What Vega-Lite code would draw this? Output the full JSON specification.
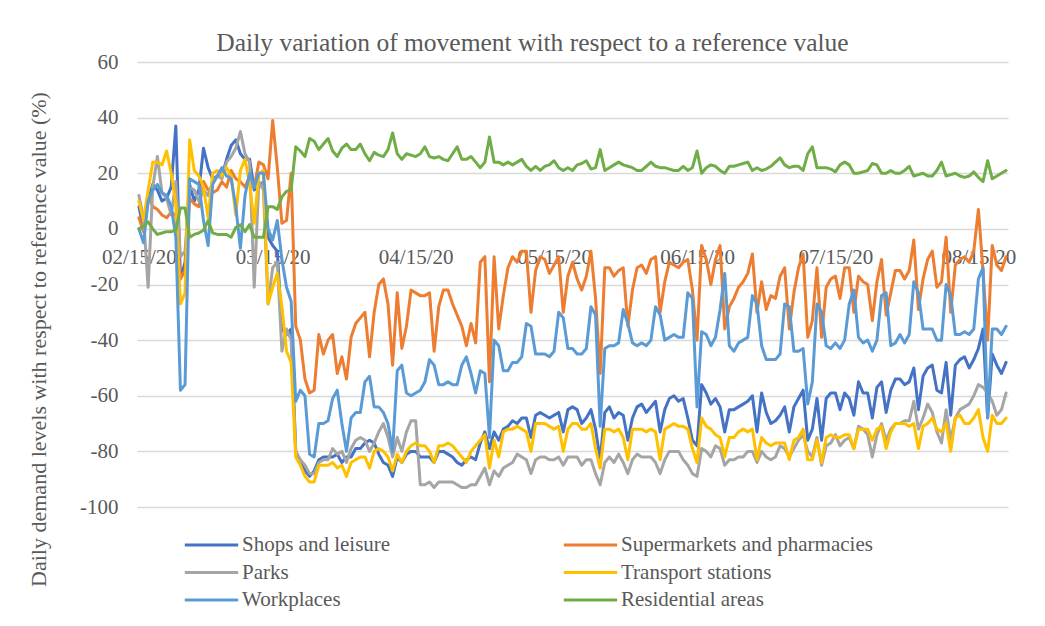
{
"$schema": "https://vega.github.io/schema/vega-lite/v6.json",
"width": 871, "height": 445,
"autosize": {"type": "none"},
"padding": {"left": 137, "top": 62, "right": 37, "bottom": 119},
"background": "white",
"title": {"text": "Daily variation of movement with respect to a reference value", "font": "Liberation Serif", "fontSize": 25.5, "fontWeight": "normal", "color": "#595959", "anchor": "middle", "dx": -40, "dy": 37, "baseline": "alphabetic", "offset": 12},
"data": {"values": [
{"date":"2020-02-15","shops":8,"markets":4,"parks":12,"transit":10,"work":0,"home":0},
{"date":"2020-02-16","shops":0,"markets":-1,"parks":4,"transit":3,"work":-5,"home":1},
{"date":"2020-02-17","shops":10,"markets":12,"parks":-21,"transit":14,"work":10,"home":2.5},
{"date":"2020-02-18","shops":16,"markets":8,"parks":15,"transit":24,"work":14,"home":0},
{"date":"2020-02-19","shops":14,"markets":7,"parks":26,"transit":24,"work":16,"home":-2},
{"date":"2020-02-20","shops":10,"markets":5,"parks":13,"transit":23,"work":13,"home":-1.5},
{"date":"2020-02-21","shops":11,"markets":4,"parks":11,"transit":28,"work":12,"home":-1},
{"date":"2020-02-22","shops":15,"markets":6,"parks":5,"transit":20,"work":8,"home":-1},
{"date":"2020-02-23","shops":37,"markets":5,"parks":17,"transit":9,"work":-3,"home":-0.5},
{"date":"2020-02-24","shops":-18,"markets":-18,"parks":-10,"transit":-27,"work":-58,"home":7.5},
{"date":"2020-02-25","shops":-12,"markets":-15,"parks":-8,"transit":-23,"work":-56,"home":7.5},
{"date":"2020-02-26","shops":16,"markets":11,"parks":15,"transit":32,"work":18,"home":-3},
{"date":"2020-02-27","shops":10,"markets":9,"parks":14,"transit":21,"work":17,"home":-2},
{"date":"2020-02-28","shops":14,"markets":8,"parks":10,"transit":19,"work":16,"home":-1.5},
{"date":"2020-02-29","shops":29,"markets":17,"parks":14,"transit":15,"work":3,"home":-0.5},
{"date":"2020-03-01","shops":22,"markets":14,"parks":12,"transit":4,"work":-6,"home":3},
{"date":"2020-03-02","shops":18,"markets":13,"parks":17,"transit":20,"work":16,"home":-1.5},
{"date":"2020-03-03","shops":19,"markets":14,"parks":19,"transit":21,"work":19,"home":-2},
{"date":"2020-03-04","shops":19,"markets":17,"parks":18,"transit":19,"work":22,"home":-2},
{"date":"2020-03-05","shops":25,"markets":15,"parks":24,"transit":22,"work":19,"home":-2},
{"date":"2020-03-06","shops":30,"markets":21,"parks":26,"transit":19,"work":18,"home":-3},
{"date":"2020-03-07","shops":32,"markets":18,"parks":29,"transit":5,"work":8,"home":0.5},
{"date":"2020-03-08","shops":27,"markets":17,"parks":35,"transit":21,"work":-7,"home":1.5},
{"date":"2020-03-09","shops":25,"markets":15,"parks":27,"transit":25,"work":12,"home":-1},
{"date":"2020-03-10","shops":25,"markets":19,"parks":24,"transit":16,"work":20,"home":1.5},
{"date":"2020-03-11","shops":14,"markets":15,"parks":-21,"transit":2,"work":15,"home":-3},
{"date":"2020-03-12","shops":15,"markets":24,"parks":17,"transit":20,"work":20,"home":-3},
{"date":"2020-03-13","shops":17,"markets":23,"parks":14,"transit":21,"work":20,"home":-3},
{"date":"2020-03-14","shops":-3,"markets":18,"parks":-27,"transit":-27,"work":0,"home":8},
{"date":"2020-03-15","shops":-6,"markets":39,"parks":-14,"transit":-21,"work":-4,"home":8},
{"date":"2020-03-16","shops":-8,"markets":22,"parks":-12,"transit":-16,"work":3,"home":7},
{"date":"2020-03-17","shops":-36,"markets":2,"parks":-44,"transit":-28,"work":-11,"home":11.5},
{"date":"2020-03-18","shops":-38,"markets":3,"parks":-36,"transit":-44,"work":-21,"home":13.5},
{"date":"2020-03-19","shops":-36,"markets":20,"parks":-40,"transit":-48,"work":-26,"home":14},
{"date":"2020-03-20","shops":-80,"markets":-35,"parks":-80,"transit":-82,"work":-62,"home":29.5},
{"date":"2020-03-21","shops":-84,"markets":-40,"parks":-83,"transit":-85,"work":-58,"home":28},
{"date":"2020-03-22","shops":-87,"markets":-54,"parks":-85,"transit":-89,"work":-60,"home":26},
{"date":"2020-03-23","shops":-89,"markets":-59,"parks":-88,"transit":-91,"work":-81,"home":32.5},
{"date":"2020-03-24","shops":-87,"markets":-58,"parks":-88,"transit":-91,"work":-82,"home":31.5},
{"date":"2020-03-25","shops":-83,"markets":-38,"parks":-84,"transit":-85,"work":-70,"home":28.5},
{"date":"2020-03-26","shops":-82,"markets":-45,"parks":-83,"transit":-85,"work":-70,"home":30.5},
{"date":"2020-03-27","shops":-82,"markets":-40,"parks":-83,"transit":-85,"work":-69,"home":32.5},
{"date":"2020-03-28","shops":-82,"markets":-38,"parks":-79,"transit":-84,"work":-61,"home":28},
{"date":"2020-03-29","shops":-81,"markets":-52,"parks":-81,"transit":-86,"work":-58,"home":26},
{"date":"2020-03-30","shops":-84,"markets":-46,"parks":-80,"transit":-85,"work":-70,"home":29},
{"date":"2020-03-31","shops":-82,"markets":-54,"parks":-84,"transit":-89,"work":-80,"home":30.5},
{"date":"2020-04-01","shops":-82,"markets":-39,"parks":-79,"transit":-84,"work":-68,"home":28.5},
{"date":"2020-04-02","shops":-79,"markets":-34,"parks":-76,"transit":-83,"work":-66,"home":28.5},
{"date":"2020-04-03","shops":-79,"markets":-32,"parks":-75,"transit":-82,"work":-66,"home":30.5},
{"date":"2020-04-04","shops":-77,"markets":-30,"parks":-76,"transit":-82,"work":-55,"home":27},
{"date":"2020-04-05","shops":-76,"markets":-46,"parks":-80,"transit":-86,"work":-53,"home":24.5},
{"date":"2020-04-06","shops":-77,"markets":-30,"parks":-77,"transit":-80,"work":-64,"home":27.5},
{"date":"2020-04-07","shops":-81,"markets":-20,"parks":-73,"transit":-79,"work":-64,"home":26.5},
{"date":"2020-04-08","shops":-84,"markets":-18,"parks":-70,"transit":-80,"work":-66,"home":26},
{"date":"2020-04-09","shops":-85,"markets":-27,"parks":-75,"transit":-82,"work":-70,"home":28.5},
{"date":"2020-04-10","shops":-89,"markets":-49,"parks":-82,"transit":-87,"work":-80,"home":34.5},
{"date":"2020-04-11","shops":-82,"markets":-23,"parks":-75,"transit":-81,"work":-51,"home":27},
{"date":"2020-04-12","shops":-84,"markets":-43,"parks":-80,"transit":-84,"work":-49,"home":25},
{"date":"2020-04-13","shops":-81,"markets":-35,"parks":-73,"transit":-80,"work":-59,"home":27},
{"date":"2020-04-14","shops":-80,"markets":-22,"parks":-69,"transit":-78,"work":-60,"home":26.5},
{"date":"2020-04-15","shops":-80,"markets":-23,"parks":-69,"transit":-77,"work":-59,"home":26},
{"date":"2020-04-16","shops":-82,"markets":-24,"parks":-92,"transit":-78,"work":-58,"home":27},
{"date":"2020-04-17","shops":-82,"markets":-24,"parks":-92,"transit":-78,"work":-55,"home":29.5},
{"date":"2020-04-18","shops":-82,"markets":-23,"parks":-91,"transit":-80,"work":-47,"home":26},
{"date":"2020-04-19","shops":-84,"markets":-44,"parks":-93,"transit":-84,"work":-49,"home":25.5},
{"date":"2020-04-20","shops":-80,"markets":-28,"parks":-91,"transit":-78,"work":-56,"home":26},
{"date":"2020-04-21","shops":-80,"markets":-22,"parks":-91,"transit":-78,"work":-56,"home":25},
{"date":"2020-04-22","shops":-81,"markets":-22,"parks":-91,"transit":-77,"work":-55,"home":24.5},
{"date":"2020-04-23","shops":-82,"markets":-27,"parks":-91,"transit":-78,"work":-56,"home":27},
{"date":"2020-04-24","shops":-84,"markets":-31,"parks":-92,"transit":-80,"work":-56,"home":29.5},
{"date":"2020-04-25","shops":-85,"markets":-35,"parks":-93,"transit":-82,"work":-49,"home":25},
{"date":"2020-04-26","shops":-83,"markets":-42,"parks":-93,"transit":-84,"work":-46,"home":25},
{"date":"2020-04-27","shops":-82,"markets":-34,"parks":-92,"transit":-80,"work":-52,"home":26},
{"date":"2020-04-28","shops":-83,"markets":-41,"parks":-92,"transit":-78,"work":-59,"home":24},
{"date":"2020-04-29","shops":-77,"markets":-12,"parks":-89,"transit":-76,"work":-51,"home":22},
{"date":"2020-04-30","shops":-73,"markets":-10,"parks":-86,"transit":-74,"work":-52,"home":24},
{"date":"2020-05-01","shops":-79,"markets":-55,"parks":-92,"transit":-86,"work":-75,"home":33},
{"date":"2020-05-02","shops":-73,"markets":-10,"parks":-87,"transit":-76,"work":-40,"home":24},
{"date":"2020-05-03","shops":-76,"markets":-36,"parks":-89,"transit":-82,"work":-42,"home":24},
{"date":"2020-05-04","shops":-72,"markets":-24,"parks":-86,"transit":-73,"work":-51,"home":23},
{"date":"2020-05-05","shops":-71,"markets":-14,"parks":-85,"transit":-72,"work":-51,"home":24},
{"date":"2020-05-06","shops":-69,"markets":-10,"parks":-84,"transit":-72,"work":-48,"home":23},
{"date":"2020-05-07","shops":-70,"markets":-12,"parks":-81,"transit":-71,"work":-48,"home":24},
{"date":"2020-05-08","shops":-68,"markets":-8,"parks":-82,"transit":-72,"work":-46,"home":25},
{"date":"2020-05-09","shops":-68,"markets":-8,"parks":-83,"transit":-73,"work":-34,"home":22.5},
{"date":"2020-05-10","shops":-75,"markets":-30,"parks":-88,"transit":-80,"work":-35,"home":21},
{"date":"2020-05-11","shops":-67,"markets":-15,"parks":-83,"transit":-70,"work":-45,"home":22.5},
{"date":"2020-05-12","shops":-66,"markets":-10,"parks":-82,"transit":-70,"work":-45,"home":21},
{"date":"2020-05-13","shops":-67,"markets":-11,"parks":-82,"transit":-70,"work":-45,"home":22.5},
{"date":"2020-05-14","shops":-68,"markets":-16,"parks":-83,"transit":-71,"work":-46,"home":23},
{"date":"2020-05-15","shops":-67,"markets":-13,"parks":-83,"transit":-72,"work":-44,"home":24.5},
{"date":"2020-05-16","shops":-66,"markets":-10,"parks":-82,"transit":-71,"work":-30,"home":22},
{"date":"2020-05-17","shops":-73,"markets":-30,"parks":-85,"transit":-80,"work":-32,"home":21},
{"date":"2020-05-18","shops":-65,"markets":-17,"parks":-82,"transit":-72,"work":-43,"home":22},
{"date":"2020-05-19","shops":-64,"markets":-12,"parks":-82,"transit":-70,"work":-43,"home":21},
{"date":"2020-05-20","shops":-65,"markets":-18,"parks":-82,"transit":-70,"work":-45,"home":23},
{"date":"2020-05-21","shops":-70,"markets":-22,"parks":-85,"transit":-72,"work":-45,"home":23.5},
{"date":"2020-05-22","shops":-68,"markets":-17,"parks":-83,"transit":-72,"work":-43,"home":24.5},
{"date":"2020-05-23","shops":-65,"markets":-8,"parks":-83,"transit":-70,"work":-28,"home":21.5},
{"date":"2020-05-24","shops":-72,"markets":-25,"parks":-88,"transit":-79,"work":-31,"home":22},
{"date":"2020-05-25","shops":-83,"markets":-52,"parks":-92,"transit":-86,"work":-71,"home":28.5},
{"date":"2020-05-26","shops":-66,"markets":-14,"parks":-84,"transit":-72,"work":-43,"home":21},
{"date":"2020-05-27","shops":-64,"markets":-14,"parks":-82,"transit":-72,"work":-42,"home":22},
{"date":"2020-05-28","shops":-68,"markets":-17,"parks":-84,"transit":-73,"work":-42,"home":23},
{"date":"2020-05-29","shops":-66,"markets":-15,"parks":-81,"transit":-72,"work":-41,"home":24},
{"date":"2020-05-30","shops":-67,"markets":-14,"parks":-84,"transit":-75,"work":-29,"home":23},
{"date":"2020-05-31","shops":-76,"markets":-35,"parks":-88,"transit":-83,"work":-34,"home":22.5},
{"date":"2020-06-01","shops":-68,"markets":-22,"parks":-83,"transit":-72,"work":-41,"home":22},
{"date":"2020-06-02","shops":-64,"markets":-14,"parks":-81,"transit":-72,"work":-42,"home":21},
{"date":"2020-06-03","shops":-63,"markets":-13,"parks":-82,"transit":-72,"work":-41,"home":21},
{"date":"2020-06-04","shops":-66,"markets":-16,"parks":-82,"transit":-73,"work":-42,"home":22.5},
{"date":"2020-06-05","shops":-64,"markets":-11,"parks":-82,"transit":-72,"work":-40,"home":24},
{"date":"2020-06-06","shops":-62,"markets":-10,"parks":-84,"transit":-73,"work":-28,"home":22.5},
{"date":"2020-06-07","shops":-73,"markets":-30,"parks":-88,"transit":-83,"work":-31,"home":22},
{"date":"2020-06-08","shops":-65,"markets":-19,"parks":-83,"transit":-72,"work":-40,"home":22},
{"date":"2020-06-09","shops":-61,"markets":-12,"parks":-80,"transit":-71,"work":-39,"home":21.5},
{"date":"2020-06-10","shops":-60,"markets":-13,"parks":-80,"transit":-70,"work":-38,"home":21},
{"date":"2020-06-11","shops":-62,"markets":-14,"parks":-80,"transit":-71,"work":-39,"home":21},
{"date":"2020-06-12","shops":-61,"markets":-12,"parks":-83,"transit":-71,"work":-39,"home":22.5},
{"date":"2020-06-13","shops":-68,"markets":-11,"parks":-85,"transit":-72,"work":-23,"home":21},
{"date":"2020-06-14","shops":-76,"markets":-22,"parks":-88,"transit":-79,"work":-25,"home":22},
{"date":"2020-06-15","shops":-78,"markets":-40,"parks":-89,"transit":-84,"work":-64,"home":28},
{"date":"2020-06-16","shops":-56,"markets":-6,"parks":-79,"transit":-68,"work":-37,"home":20},
{"date":"2020-06-17","shops":-59,"markets":-11,"parks":-80,"transit":-71,"work":-38,"home":22},
{"date":"2020-06-18","shops":-63,"markets":-20,"parks":-82,"transit":-72,"work":-42,"home":23},
{"date":"2020-06-19","shops":-61,"markets":-11,"parks":-78,"transit":-74,"work":-39,"home":22.5},
{"date":"2020-06-20","shops":-64,"markets":-6,"parks":-79,"transit":-75,"work":-29,"home":21},
{"date":"2020-06-21","shops":-73,"markets":-36,"parks":-85,"transit":-82,"work":-16,"home":20},
{"date":"2020-06-22","shops":-65,"markets":-28,"parks":-83,"transit":-75,"work":-42,"home":22.5},
{"date":"2020-06-23","shops":-65,"markets":-25,"parks":-83,"transit":-75,"work":-44,"home":22.5},
{"date":"2020-06-24","shops":-64,"markets":-21,"parks":-82,"transit":-73,"work":-41,"home":23},
{"date":"2020-06-25","shops":-63,"markets":-19,"parks":-82,"transit":-72,"work":-40,"home":23.5},
{"date":"2020-06-26","shops":-62,"markets":-16,"parks":-80,"transit":-73,"work":-39,"home":24},
{"date":"2020-06-27","shops":-60,"markets":-9,"parks":-80,"transit":-72,"work":-24,"home":21},
{"date":"2020-06-28","shops":-73,"markets":-30,"parks":-84,"transit":-83,"work":-27,"home":22},
{"date":"2020-06-29","shops":-59,"markets":-19,"parks":-80,"transit":-75,"work":-42,"home":21},
{"date":"2020-06-30","shops":-66,"markets":-29,"parks":-82,"transit":-77,"work":-47,"home":21.5},
{"date":"2020-07-01","shops":-70,"markets":-24,"parks":-83,"transit":-78,"work":-47,"home":22.5},
{"date":"2020-07-02","shops":-69,"markets":-25,"parks":-82,"transit":-77,"work":-47,"home":24},
{"date":"2020-07-03","shops":-67,"markets":-17,"parks":-78,"transit":-77,"work":-45,"home":25.5},
{"date":"2020-07-04","shops":-64,"markets":-14,"parks":-79,"transit":-77,"work":-27,"home":23},
{"date":"2020-07-05","shops":-73,"markets":-36,"parks":-82,"transit":-83,"work":-28,"home":22},
{"date":"2020-07-06","shops":-64,"markets":-23,"parks":-79,"transit":-76,"work":-44,"home":22.5},
{"date":"2020-07-07","shops":-61,"markets":-14,"parks":-76,"transit":-75,"work":-44,"home":22.5},
{"date":"2020-07-08","shops":-58,"markets":-9,"parks":-74,"transit":-72,"work":-43,"home":21},
{"date":"2020-07-09","shops":-76,"markets":-39,"parks":-80,"transit":-83,"work":-63,"home":27},
{"date":"2020-07-10","shops":-72,"markets":-33,"parks":-82,"transit":-83,"work":-55,"home":29.5},
{"date":"2020-07-11","shops":-61,"markets":-14,"parks":-75,"transit":-76,"work":-27,"home":22},
{"date":"2020-07-12","shops":-76,"markets":-39,"parks":-85,"transit":-84,"work":-30,"home":22},
{"date":"2020-07-13","shops":-61,"markets":-21,"parks":-78,"transit":-75,"work":-42,"home":22},
{"date":"2020-07-14","shops":-59,"markets":-18,"parks":-77,"transit":-74,"work":-43,"home":21.5},
{"date":"2020-07-15","shops":-59,"markets":-17,"parks":-74,"transit":-75,"work":-41,"home":20.5},
{"date":"2020-07-16","shops":-65,"markets":-25,"parks":-78,"transit":-75,"work":-43,"home":23},
{"date":"2020-07-17","shops":-59,"markets":-14,"parks":-76,"transit":-74,"work":-40,"home":24},
{"date":"2020-07-18","shops":-61,"markets":-14,"parks":-75,"transit":-74,"work":-27,"home":23},
{"date":"2020-07-19","shops":-67,"markets":-30,"parks":-79,"transit":-79,"work":-22,"home":20},
{"date":"2020-07-20","shops":-55,"markets":-17,"parks":-71,"transit":-72,"work":-39,"home":20},
{"date":"2020-07-21","shops":-59,"markets":-19,"parks":-72,"transit":-72,"work":-41,"home":20.5},
{"date":"2020-07-22","shops":-59,"markets":-20,"parks":-74,"transit":-72,"work":-40,"home":21},
{"date":"2020-07-23","shops":-68,"markets":-33,"parks":-82,"transit":-76,"work":-44,"home":23.5},
{"date":"2020-07-24","shops":-57,"markets":-19,"parks":-74,"transit":-72,"work":-40,"home":23},
{"date":"2020-07-25","shops":-55,"markets":-11,"parks":-70,"transit":-71,"work":-24,"home":20},
{"date":"2020-07-26","shops":-66,"markets":-31,"parks":-76,"transit":-79,"work":-23,"home":20},
{"date":"2020-07-27","shops":-58,"markets":-23,"parks":-72,"transit":-73,"work":-42,"home":21},
{"date":"2020-07-28","shops":-54,"markets":-15,"parks":-70,"transit":-70,"work":-41,"home":20},
{"date":"2020-07-29","shops":-54,"markets":-15,"parks":-70,"transit":-70,"work":-38,"home":20},
{"date":"2020-07-30","shops":-56,"markets":-18,"parks":-69,"transit":-70,"work":-41,"home":21},
{"date":"2020-07-31","shops":-55,"markets":-15,"parks":-69,"transit":-71,"work":-38,"home":22.5},
{"date":"2020-08-01","shops":-50,"markets":-4,"parks":-62,"transit":-70,"work":-19,"home":19},
{"date":"2020-08-02","shops":-65,"markets":-29,"parks":-72,"transit":-79,"work":-23,"home":19.5},
{"date":"2020-08-03","shops":-53,"markets":-18,"parks":-68,"transit":-71,"work":-36,"home":20},
{"date":"2020-08-04","shops":-50,"markets":-11,"parks":-63,"transit":-70,"work":-36,"home":19},
{"date":"2020-08-05","shops":-49,"markets":-8,"parks":-66,"transit":-68,"work":-36,"home":19},
{"date":"2020-08-06","shops":-58,"markets":-21,"parks":-73,"transit":-72,"work":-40,"home":21},
{"date":"2020-08-07","shops":-59,"markets":-19,"parks":-77,"transit":-73,"work":-40,"home":24},
{"date":"2020-08-08","shops":-48,"markets":-3,"parks":-65,"transit":-70,"work":-20,"home":19},
{"date":"2020-08-09","shops":-67,"markets":-30,"parks":-76,"transit":-80,"work":-24,"home":19.5},
{"date":"2020-08-10","shops":-49,"markets":-13,"parks":-68,"transit":-68,"work":-38,"home":20},
{"date":"2020-08-11","shops":-47,"markets":-11,"parks":-65,"transit":-67,"work":-38,"home":19},
{"date":"2020-08-12","shops":-46,"markets":-10,"parks":-64,"transit":-70,"work":-37,"home":18.5},
{"date":"2020-08-13","shops":-50,"markets":-12,"parks":-63,"transit":-70,"work":-38,"home":19},
{"date":"2020-08-14","shops":-47,"markets":-8,"parks":-60,"transit":-68,"work":-36,"home":20.5},
{"date":"2020-08-15","shops":-43,"markets":7,"parks":-56,"transit":-65,"work":-18,"home":18.5},
{"date":"2020-08-16","shops":-36,"markets":-15,"parks":-57,"transit":-75,"work":-14,"home":17},
{"date":"2020-08-17","shops":-68,"markets":-40,"parks":-59,"transit":-80,"work":-68,"home":24.5},
{"date":"2020-08-18","shops":-45,"markets":-6,"parks":-62,"transit":-67,"work":-36,"home":18},
{"date":"2020-08-19","shops":-49,"markets":-13,"parks":-67,"transit":-70,"work":-36,"home":19},
{"date":"2020-08-20","shops":-52,"markets":-15,"parks":-65,"transit":-70,"work":-38,"home":20},
{"date":"2020-08-21","shops":-48,"markets":-10,"parks":-59,"transit":-68,"work":-35,"home":21}
]},
"transform": [{"fold": ["shops","markets","parks","transit","work","home"], "as": ["series","value"]}],
"mark": {"type": "line", "strokeWidth": 3, "strokeJoin": "round", "strokeCap": "round"},
"encoding": {
  "x": {"field": "date", "type": "temporal",
    "scale": {"type": "utc", "domain": [{"year":2020,"month":2,"date":14,"hours":14,"utc":true},{"year":2020,"month":8,"date":21,"hours":10,"utc":true}]},
    "axis": {"orient": "bottom", "offset": -278, "domain": false, "ticks": false, "grid": false,
      "values": [{"year":2020,"month":2,"date":15,"utc":true},{"year":2020,"month":3,"date":15,"utc":true},{"year":2020,"month":4,"date":15,"utc":true},{"year":2020,"month":5,"date":15,"utc":true},{"year":2020,"month":6,"date":15,"utc":true},{"year":2020,"month":7,"date":15,"utc":true},{"year":2020,"month":8,"date":15,"utc":true}],
      "labelExpr": "utcFormat(datum.value, '%m/%d/%y')", "labelFont": "Liberation Serif", "labelFontSize": 21, "labelColor": "#595959",
      "labelBaseline": "alphabetic", "labelPadding": 34, "labelFlush": false, "labelOverlap": false, "labelBound": false, "title": null}},
  "y": {"field": "value", "type": "quantitative",
    "scale": {"domain": [-100, 60], "nice": false, "zero": false},
    "axis": {"values": [-100,-80,-60,-40,-20,0,20,40,60], "labelExpr": "datum.value + ''", "domain": false, "ticks": false, "grid": true, "gridColor": "#D9D9D9", "gridWidth": 1.5,
      "labelFont": "Liberation Serif", "labelFontSize": 21, "labelColor": "#595959", "labelPadding": 19,
      "title": "Daily demand levels with respect to reference value (%)", "titleFont": "Liberation Serif", "titleFontSize": 22, "titleFontWeight": "normal", "titleColor": "#595959",
      "titleX": -99, "titleY": 277, "titleAngle": -90, "titleAlign": "center", "titleBaseline": "middle"}},
  "color": {"field": "series", "type": "nominal",
    "scale": {"domain": ["shops","markets","parks","transit","work","home"], "range": ["#4472C4","#ED7D31","#A5A5A5","#FFC000","#5B9BD5","#70AD47"]},
    "legend": {"orient": "none", "legendX": 46, "legendY": 470, "columns": 2, "direction": "horizontal", "columnPadding": 171, "rowPadding": 1.5, "clipHeight": 26,
      "symbolType": "stroke", "symbolSize": 2850, "symbolStrokeWidth": 3, "labelFont": "Liberation Serif", "labelFontSize": 21, "labelColor": "#595959", "labelOffset": 2, "labelLimit": 500, "title": null,
      "labelExpr": "datum.value == 'shops' ? 'Shops and leisure' : datum.value == 'markets' ? 'Supermarkets and pharmacies' : datum.value == 'parks' ? 'Parks' : datum.value == 'transit' ? 'Transport stations' : datum.value == 'work' ? 'Workplaces' : 'Residential areas'"}}
},
"config": {"view": {"stroke": null}}
}
